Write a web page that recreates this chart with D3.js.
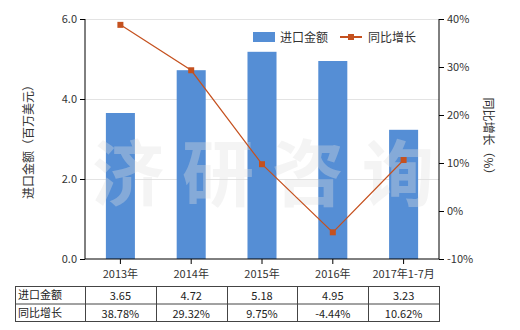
<!DOCTYPE html>
<html>
<head>
<meta charset="utf-8">
<script src="https://cdn.jsdelivr.net/npm/d3@7"></script>
<style>
  body { margin: 0; background: #fff; }
  svg { font-family: "Noto Sans CJK SC", "DejaVu Sans", sans-serif; }
</style>
</head>
<body>
<svg id="chart" width="520" height="330"></svg>
<script>
// datos
const categories = ['2013年', '2014年', '2015年', '2016年', '2017年1-7月'];
const importValues = [3.65, 4.72, 5.18, 4.95, 3.23];
const growthValues = [38.78, 29.32, 9.75, -4.44, 10.62];
const leftTicks = [0, 2, 4, 6];
const rightTicks = [-10, 0, 10, 20, 30, 40];
const rowNames = ['进口金额', '同比增长'];

const svg = d3.select('#chart');
const pLeft = 85, pRight = 439, pTop = 19, pBottom = 259;
const barColor = '#558ed5', lineColor = '#c5511f';

const x = d3.scaleBand().domain(categories).range([pLeft, pRight]).paddingInner(0.59).paddingOuter(0.295);
const yL = d3.scaleLinear().domain([0, 6]).range([pBottom, pTop]);
const yR = d3.scaleLinear().domain([-10, 40]).range([pBottom, pTop]);

// grid
svg.append('g').selectAll('line').data(leftTicks.slice(1)).join('line')
  .attr('x1', pLeft).attr('x2', pRight)
  .attr('y1', d => yL(d) + 0.5).attr('y2', d => yL(d) + 0.5)
  .attr('stroke', '#e3e3e3');

// bars
svg.append('g').selectAll('rect').data(importValues).join('rect')
  .attr('x', (d, i) => x(categories[i]))
  .attr('width', x.bandwidth())
  .attr('y', d => yL(d))
  .attr('height', d => yL(0) - yL(d))
  .attr('fill', barColor);

// marca de agua
svg.append('g').selectAll('text').data(['济', '研', '咨', '询']).join('text')
  .attr('x', (d, i) => 128 + i * 90)
  .attr('y', 200)
  .attr('text-anchor', 'middle')
  .attr('font-size', 72)
  .attr('font-weight', 'bold')
  .attr('fill', '#e0e0e0')
  .attr('opacity', 0.35)
  .text(d => d);

// línea
const cx = i => x(categories[i]) + x.bandwidth() / 2;
svg.append('path').datum(growthValues)
  .attr('d', d3.line().x((d, i) => cx(i)).y(d => yR(d)))
  .attr('fill', 'none').attr('stroke', lineColor).attr('stroke-width', 1.2);
svg.append('g').selectAll('rect').data(growthValues).join('rect')
  .attr('x', (d, i) => cx(i) - 3).attr('y', d => yR(d) - 3)
  .attr('width', 6).attr('height', 6).attr('fill', lineColor);

// ejes
const axL = svg.append('g').attr('transform', `translate(${pLeft},0)`)
  .call(d3.axisLeft(yL).tickValues(leftTicks).tickFormat(d3.format('.1f')).tickSize(5));
const axR = svg.append('g').attr('transform', `translate(${pRight},0)`)
  .call(d3.axisRight(yR).tickValues(rightTicks).tickFormat(d => d + '%').tickSize(5));
const axB = svg.append('g').attr('transform', `translate(0,${pBottom})`)
  .call(d3.axisBottom(x).tickSize(5).tickPadding(6));
[axL, axR, axB].forEach(a => {
  a.select('.domain').attr('stroke', '#000');
  a.selectAll('.tick line').attr('stroke', '#000');
  a.selectAll('text').attr('font-size', 11).attr('fill', '#333')
    .attr('font-family', '"Noto Sans CJK SC", "DejaVu Sans", sans-serif');
});
axL.select('.domain').attr('d', `M0,${pTop}V${pBottom}`);
axR.select('.domain').attr('d', `M0,${pTop}V${pBottom}`);
axB.select('.domain').attr('d', `M${pLeft},0H${pRight}`);

// títulos de ejes
svg.append('text').attr('transform', 'translate(33,139) rotate(-90)')
  .attr('text-anchor', 'middle').attr('font-size', 12).attr('fill', '#333')
  .text('进口金额（百万美元）');
svg.append('text').attr('transform', 'translate(484,139) rotate(90)')
  .attr('text-anchor', 'middle').attr('font-size', 12).attr('fill', '#333')
  .text('同比增长（%）');

// leyenda
const lg = svg.append('g').attr('font-size', 12).attr('fill', '#333');
lg.append('rect').attr('x', 253).attr('y', 32).attr('width', 22).attr('height', 10).attr('fill', barColor);
lg.append('text').attr('x', 280).attr('y', 42).text('进口金额');
lg.append('line').attr('x1', 340).attr('x2', 362).attr('y1', 37).attr('y2', 37)
  .attr('stroke', lineColor).attr('stroke-width', 2);
lg.append('rect').attr('x', 348).attr('y', 34).attr('width', 6).attr('height', 6).attr('fill', lineColor);
lg.append('text').attr('x', 368).attr('y', 42).text('同比增长');

// tabla
const tTop = 286, rowH = 17.5, tLeft = 15;
const cols = [tLeft, pLeft].concat(categories.map((c, i) => x(c) + x.bandwidth() / 2 + x.step() / 2));
const tbl = svg.append('g').attr('font-size', 11).attr('fill', '#222');
tbl.append('rect').attr('x', tLeft + 0.5).attr('y', tTop + 0.5)
  .attr('width', cols[cols.length - 1] - tLeft).attr('height', rowH * 2)
  .attr('fill', 'none').attr('stroke', '#444');
tbl.append('line').attr('x1', tLeft).attr('x2', cols[cols.length - 1])
  .attr('y1', tTop + rowH + 0.5).attr('y2', tTop + rowH + 0.5).attr('stroke', '#444');
cols.slice(1, -1).forEach(c => tbl.append('line')
  .attr('x1', Math.round(c) + 0.5).attr('x2', Math.round(c) + 0.5)
  .attr('y1', tTop).attr('y2', tTop + rowH * 2).attr('stroke', '#444'));
rowNames.forEach((r, j) => tbl.append('text').attr('x', tLeft + 3)
  .attr('y', tTop + rowH * j + 13).text(r));
importValues.forEach((v, i) => tbl.append('text').attr('x', cx(i)).attr('y', tTop + 14)
  .attr('text-anchor', 'middle').text(v.toFixed(2)));
growthValues.forEach((v, i) => tbl.append('text').attr('x', cx(i)).attr('y', tTop + rowH + 14)
  .attr('text-anchor', 'middle').text(v.toFixed(2) + '%'));
</script>
</body>
</html>
